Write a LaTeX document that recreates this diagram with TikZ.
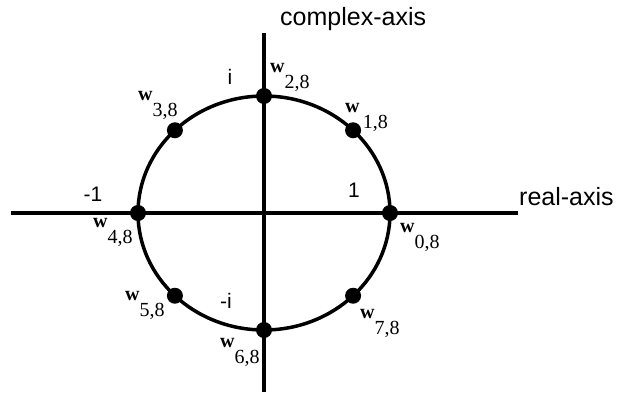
\documentclass[tikz,border=0pt]{standalone}
\usepackage{fontspec}
\setmainfont{Liberation Serif}
\newfontfamily\axisfont{Liberation Sans}
\usetikzlibrary{positioning}
\newcommand{\wroot}[1]{\textbf{w}\raisebox{-16pt}{#1}}

\begin{document}
\begin{tikzpicture}[
    x=1pt, y=1pt,
    axis/.style={line width=3.5pt},
    unitcircle/.style={line width=3.5pt},
    root/.style={circle, fill=black, minimum size=16pt, inner sep=0pt},
    wlab/.style={anchor=base west, inner sep=0pt, font=\fontsize{20}{20}\selectfont},
    val/.style={inner sep=0pt, font=\axisfont\fontsize{21}{21}\selectfont},
    axlab/.style={anchor=base west, inner sep=0pt, font=\axisfont\fontsize{25}{25}\selectfont},
]
\useasboundingbox (-264,-179) rectangle (353,213);

% Axes
\coordinate (o) at (0,0);
\coordinate (xl) at (-253,0);
\coordinate (xr) at (254,0);
\coordinate (yt) at (0,180);
\coordinate (yb) at (0,-179);
\draw[axis] (xl) -- (xr);
\draw[axis] (yt) -- (yb);
\node[axlab] (re) at (255,8) {real-axis};
\node[axlab] (im) at (16,188) {complex-axis};

% Unit circle
\draw[unitcircle] (o) ellipse [x radius=126, y radius=117];

% Roots of unity
\node[root] (p0) at (0:126 and 117) {};
\node[root] (p1) at (45:126 and 117) {};
\node[root] (p2) at (90:126 and 117) {};
\node[root] (p3) at (135:126 and 117) {};
\node[root] (p4) at (180:126 and 117) {};
\node[root] (p5) at (225:126 and 117) {};
\node[root] (p6) at (270:126 and 117) {};
\node[root] (p7) at (315:126 and 117) {};

% Values
\node[val] (one) at (90,23) {1};
\node[val] (mone) at (-171,19) {-1};
\node[val] (ii) at (-34,136) {i};
\node[val] (mii) at (-38,-88) {-i};

% Root labels
\node[wlab] (w0) at (136,-19) {\wroot{0,8}};
\node[wlab] (w1) at (81,101) {\wroot{\,1,8}};
\node[wlab] (w2) at (6,141) {\wroot{2,8}};
\node[wlab] (w3) at (-126,113) {\wroot{3,8}};
\node[wlab] (w4) at (-171,-14) {\wroot{4,8}};
\node[wlab] (w5) at (-139,-87) {\wroot{5,8}};
\node[wlab] (w6) at (-44,-134) {\wroot{6,8}};
\node[wlab] (w7) at (96,-105) {\wroot{7,8}};

\end{tikzpicture}
\end{document}
